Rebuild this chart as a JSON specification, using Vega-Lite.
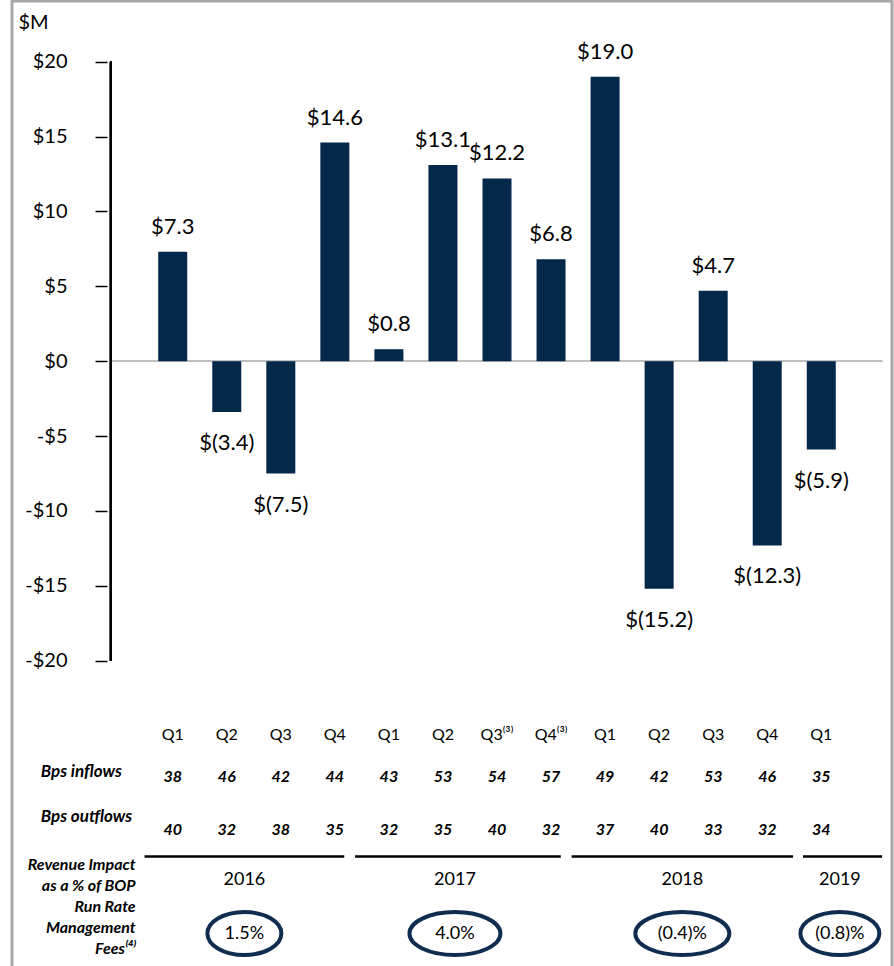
{
  "$schema": "https://vega.github.io/schema/vega-lite/v6.json",
  "width": 880,
  "height": 970,
  "autosize": {"type": "none"},
  "padding": {"left": 12, "top": 1, "right": 2, "bottom": 0},
  "background": "white",
  "config": {
    "view": {"stroke": "#a6a6a6", "strokeWidth": 3},
    "font": "Lato",
    "text": {"font": "Lato", "color": "#000000"}
  },
  "datasets": {
    "quarters": [
      {"i": 0, "year": "2016", "q": "Q1", "v": 7.3, "label": "$7.3", "inflow": 38, "outflow": 40},
      {"i": 1, "year": "2016", "q": "Q2", "v": -3.4, "label": "$(3.4)", "inflow": 46, "outflow": 32},
      {"i": 2, "year": "2016", "q": "Q3", "v": -7.5, "label": "$(7.5)", "inflow": 42, "outflow": 38},
      {"i": 3, "year": "2016", "q": "Q4", "v": 14.6, "label": "$14.6", "inflow": 44, "outflow": 35},
      {"i": 4, "year": "2017", "q": "Q1", "v": 0.8, "label": "$0.8", "inflow": 43, "outflow": 32},
      {"i": 5, "year": "2017", "q": "Q2", "v": 13.1, "label": "$13.1", "inflow": 53, "outflow": 35},
      {"i": 6, "year": "2017", "q": "Q3⁽³⁾", "v": 12.2, "label": "$12.2", "inflow": 54, "outflow": 40},
      {"i": 7, "year": "2017", "q": "Q4⁽³⁾", "v": 6.8, "label": "$6.8", "inflow": 57, "outflow": 32},
      {"i": 8, "year": "2018", "q": "Q1", "v": 19.0, "label": "$19.0", "inflow": 49, "outflow": 37},
      {"i": 9, "year": "2018", "q": "Q2", "v": -15.2, "label": "$(15.2)", "inflow": 42, "outflow": 40},
      {"i": 10, "year": "2018", "q": "Q3", "v": 4.7, "label": "$4.7", "inflow": 53, "outflow": 33},
      {"i": 11, "year": "2018", "q": "Q4", "v": -12.3, "label": "$(12.3)", "inflow": 46, "outflow": 32},
      {"i": 12, "year": "2019", "q": "Q1", "v": -5.9, "label": "$(5.9)", "inflow": 35, "outflow": 34}
    ],
    "years": [
      {"year": "2016", "pct": "1.5%", "from": -0.521, "to": 3.174, "mid": 1.326},
      {"year": "2017", "pct": "4.0%", "from": 3.375, "to": 7.18, "mid": 5.222},
      {"year": "2018", "pct": "(0.4)%", "from": 7.381, "to": 11.478, "mid": 9.429},
      {"year": "2019", "pct": "(0.8)%", "from": 11.661, "to": 13.125, "mid": 12.344}
    ]
  },
  "layer": [
    {
      "data": {"name": "quarters"},
      "mark": {"type": "rule", "color": "#bfbfbf", "strokeWidth": 1.5},
      "encoding": {
        "x": {"datum": -1.1433, "type": "quantitative", "scale": {"domain": [-2.881, 13.216], "nice": false, "zero": false}, "axis": null},
        "x2": {"datum": 13.125},
        "y": {"datum": 0, "type": "quantitative", "scale": {"domain": [-40.722, 24.053], "nice": false, "zero": false},
          "axis": {
            "values": [-20, -15, -10, -5, 0, 5, 10, 15, 20],
            "labelExpr": "datum.value < 0 ? '-$' + abs(datum.value) : '$' + datum.value",
            "offset": -95,
            "domain": false,
            "grid": false,
            "ticks": true,
            "tickSize": 12,
            "tickColor": "#000000",
            "tickWidth": 1.5,
            "labelPadding": 28,
            "labelFont": "Lato",
            "labelFontSize": 20,
            "labelColor": "#000000",
            "title": "$M",
            "titleAngle": 0,
            "titleAlign": "left",
            "titleBaseline": "middle",
            "titleX": -89,
            "titleY": 21,
            "titleFont": "Lato",
            "titleFontSize": 20,
            "titleFontWeight": "normal",
            "titleColor": "#000000"
          }
        }
      }
    },
    {
      "data": {"name": "quarters"},
      "mark": {"type": "rule", "color": "#000000", "strokeWidth": 2},
      "encoding": {
        "x": {"datum": -1.1433, "type": "quantitative"},
        "y": {"datum": -20, "type": "quantitative"},
        "y2": {"datum": 20}
      }
    },
    {
      "data": {"name": "quarters"},
      "mark": {"type": "bar", "width": 29, "color": "#03284a"},
      "encoding": {
        "x": {"field": "i", "type": "quantitative"},
        "y": {"field": "v", "type": "quantitative"},
        "y2": {"datum": 0}
      }
    },
    {
      "data": {"name": "quarters"},
      "transform": [{"filter": "datum.v >= 0"}],
      "mark": {"type": "text", "fontSize": 22, "baseline": "middle", "dy": -25},
      "encoding": {
        "x": {"field": "i", "type": "quantitative"},
        "y": {"field": "v", "type": "quantitative"},
        "text": {"field": "label"}
      }
    },
    {
      "data": {"name": "quarters"},
      "transform": [{"filter": "datum.v < 0"}],
      "mark": {"type": "text", "fontSize": 22, "baseline": "middle", "dy": 31},
      "encoding": {
        "x": {"field": "i", "type": "quantitative"},
        "y": {"field": "v", "type": "quantitative"},
        "text": {"field": "label"}
      }
    },
    {
      "data": {"name": "quarters"},
      "mark": {"type": "text", "fontSize": 16, "baseline": "middle"},
      "encoding": {
        "x": {"field": "i", "type": "quantitative"},
        "y": {"datum": -24.96, "type": "quantitative"},
        "text": {"field": "q"}
      }
    },
    {
      "data": {"name": "quarters"},
      "mark": {"type": "text", "fontSize": 16, "fontWeight": "bold", "fontStyle": "italic", "baseline": "middle"},
      "encoding": {
        "x": {"field": "i", "type": "quantitative"},
        "y": {"datum": -27.77, "type": "quantitative"},
        "text": {"field": "inflow"}
      }
    },
    {
      "data": {"name": "quarters"},
      "mark": {"type": "text", "fontSize": 16, "fontWeight": "bold", "fontStyle": "italic", "baseline": "middle"},
      "encoding": {
        "x": {"field": "i", "type": "quantitative"},
        "y": {"datum": -31.31, "type": "quantitative"},
        "text": {"field": "outflow"}
      }
    },
    {
      "data": {"values": [{"t": "Bps inflows"}]},
      "mark": {"type": "text", "fontSize": 17, "fontWeight": "bold", "fontStyle": "italic", "baseline": "middle", "align": "left"},
      "encoding": {
        "x": {"datum": -2.442, "type": "quantitative"},
        "y": {"datum": -27.43, "type": "quantitative"},
        "text": {"field": "t"}
      }
    },
    {
      "data": {"values": [{"t": "Bps outflows"}]},
      "mark": {"type": "text", "fontSize": 17, "fontWeight": "bold", "fontStyle": "italic", "baseline": "middle", "align": "left"},
      "encoding": {
        "x": {"datum": -2.442, "type": "quantitative"},
        "y": {"datum": -30.44, "type": "quantitative"},
        "text": {"field": "t"}
      }
    },
    {
      "data": {"values": [{"t": ["Revenue Impact", "as a % of BOP", "Run Rate", "Management", "Fees⁽⁴⁾"]}]},
      "mark": {"type": "text", "fontSize": 16, "fontWeight": "bold", "fontStyle": "italic", "baseline": "middle", "align": "right", "lineHeight": 21},
      "encoding": {
        "x": {"datum": -0.686, "type": "quantitative"},
        "y": {"datum": -33.64, "type": "quantitative"},
        "text": {"field": "t"}
      }
    },
    {
      "data": {"name": "years"},
      "mark": {"type": "rule", "color": "#000000", "strokeWidth": 2.5},
      "encoding": {
        "x": {"field": "from", "type": "quantitative"},
        "x2": {"field": "to"},
        "y": {"datum": -33.08, "type": "quantitative"}
      }
    },
    {
      "data": {"name": "years"},
      "mark": {"type": "text", "fontSize": 18, "baseline": "middle"},
      "encoding": {
        "x": {"field": "mid", "type": "quantitative"},
        "y": {"datum": -34.64, "type": "quantitative"},
        "text": {"field": "year"}
      }
    },
    {
      "data": {"name": "years"},
      "mark": {"type": "point", "filled": false, "stroke": "#102d4f", "strokeWidth": 4, "opacity": 1, "size": 8836},
      "encoding": {
        "x": {"field": "mid", "type": "quantitative"},
        "y": {"datum": -38.22, "type": "quantitative"},
        "shape": {
          "field": "year",
          "type": "nominal",
          "scale": {
            "domain": ["2016", "2017", "2018", "2019"],
            "range": [
              "M-0.787,0A0.787,0.457,0,1,0,0.787,0A0.787,0.457,0,1,0,-0.787,0Z",
              "M-0.968,0A0.968,0.457,0,1,0,0.968,0A0.968,0.457,0,1,0,-0.968,0Z",
              "M-1,0A1,0.457,0,1,0,1,0A1,0.457,0,1,0,-1,0Z",
              "M-0.84,0A0.84,0.457,0,1,0,0.84,0A0.84,0.457,0,1,0,-0.84,0Z"
            ]
          },
          "legend": null
        }
      }
    },
    {
      "data": {"name": "years"},
      "mark": {"type": "text", "fontSize": 18, "baseline": "middle"},
      "encoding": {
        "x": {"field": "mid", "type": "quantitative"},
        "y": {"datum": -38.25, "type": "quantitative"},
        "text": {"field": "pct"}
      }
    }
  ]
}
